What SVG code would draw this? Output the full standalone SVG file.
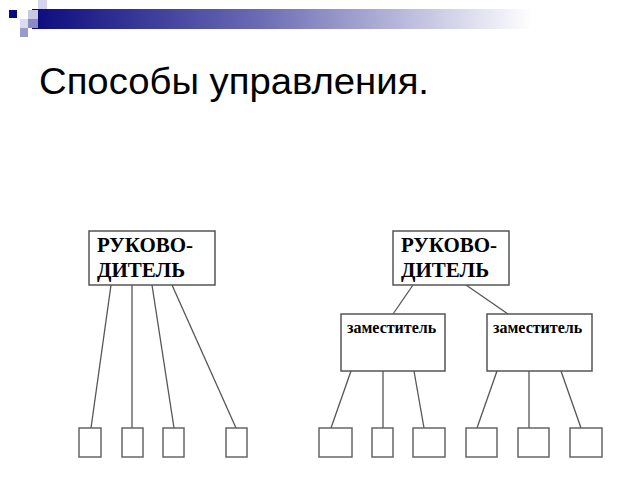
<svg xmlns="http://www.w3.org/2000/svg" width="640" height="480" viewBox="0 0 640 480">
<defs>
<linearGradient id="bar" x1="0" y1="0" x2="1" y2="0">
<stop offset="0" stop-color="#0b0b7e"/>
<stop offset="0.45" stop-color="#6a6ab4"/>
<stop offset="1" stop-color="#ffffff"/>
</linearGradient>
<style>
.box{fill:#fff;stroke:#555;stroke-width:1.5}
.sm{fill:#fff;stroke:#666;stroke-width:1.5}
.ln{stroke:#555;stroke-width:1.3;fill:none}
.big{font-family:"Liberation Serif",serif;font-weight:bold;font-size:21px;fill:#000}
.dep{font-family:"Liberation Serif",serif;font-weight:bold;font-size:16px;fill:#000}
.title{font-family:"Liberation Sans",Arial,sans-serif;font-size:36px;fill:#000}
</style>
</defs>
<rect width="640" height="480" fill="#fff"/>
<g id="decor">
<rect x="32" y="9" width="500" height="20" fill="url(#bar)"/>
<rect x="9" y="10" width="8" height="8" fill="#0b0b7e"/>
<rect x="28" y="10" width="10" height="9" fill="#c8c8e4"/>
<rect x="38" y="0" width="9" height="9" fill="#d4d4ea"/>
<rect x="20" y="19" width="8" height="9" fill="#dcdcee"/>
<rect x="20" y="28" width="8" height="9" fill="#9a9acc"/>
<rect x="28" y="19" width="10" height="9" fill="#8a8ac4"/>
</g>
<text class="title" x="39" y="94" textLength="390" lengthAdjust="spacingAndGlyphs">Способы управления.</text>
<g id="connectors">
<line class="ln" x1="111" y1="285" x2="91" y2="428"/>
<line class="ln" x1="132" y1="285" x2="132" y2="428" stroke="#999"/>
<line class="ln" x1="152" y1="285" x2="174" y2="428"/>
<line class="ln" x1="172" y1="285" x2="236" y2="428"/>
<line class="ln" x1="413" y1="285" x2="393" y2="314"/>
<line class="ln" x1="466" y1="285" x2="508" y2="314"/>
<line class="ln" x1="351" y1="371" x2="331" y2="428"/>
<line class="ln" x1="383" y1="371" x2="383" y2="428"/>
<line class="ln" x1="414" y1="371" x2="424" y2="428"/>
<line class="ln" x1="497" y1="371" x2="477" y2="428"/>
<line class="ln" x1="529" y1="371" x2="529" y2="428"/>
<line class="ln" x1="561" y1="371" x2="581" y2="428"/>
</g>
<g id="boss1">
<rect class="box" x="89" y="231" width="126" height="54"/>
<text class="big" x="97" y="252">РУКОВО-</text>
<text class="big" x="97" y="277">ДИТЕЛЬ</text>
</g>
<g id="boss2">
<rect class="box" x="393" y="231" width="116" height="54"/>
<text class="big" x="401" y="252">РУКОВО-</text>
<text class="big" x="401" y="277">ДИТЕЛЬ</text>
</g>
<g id="dep1">
<rect class="box" x="341" y="314" width="104" height="57"/>
<text class="dep" x="347" y="333">заместитель</text>
</g>
<g id="dep2">
<rect class="box" x="487" y="314" width="105" height="57"/>
<text class="dep" x="493" y="333">заместитель</text>
</g>
<g id="l1"><rect class="sm" x="79" y="428" width="22" height="29"/></g>
<g id="l2"><rect class="sm" x="122" y="428" width="21" height="29"/></g>
<g id="l3"><rect class="sm" x="163" y="428" width="21" height="29"/></g>
<g id="l4"><rect class="sm" x="226" y="428" width="21" height="29"/></g>
<g id="r1"><rect class="sm" x="319" y="428" width="33" height="29"/></g>
<g id="r2"><rect class="sm" x="372" y="428" width="21" height="29"/></g>
<g id="r3"><rect class="sm" x="413" y="428" width="32" height="29"/></g>
<g id="r4"><rect class="sm" x="466" y="428" width="31" height="29"/></g>
<g id="r5"><rect class="sm" x="518" y="428" width="31" height="29"/></g>
<g id="r6"><rect class="sm" x="570" y="428" width="32" height="29"/></g>
</svg>
